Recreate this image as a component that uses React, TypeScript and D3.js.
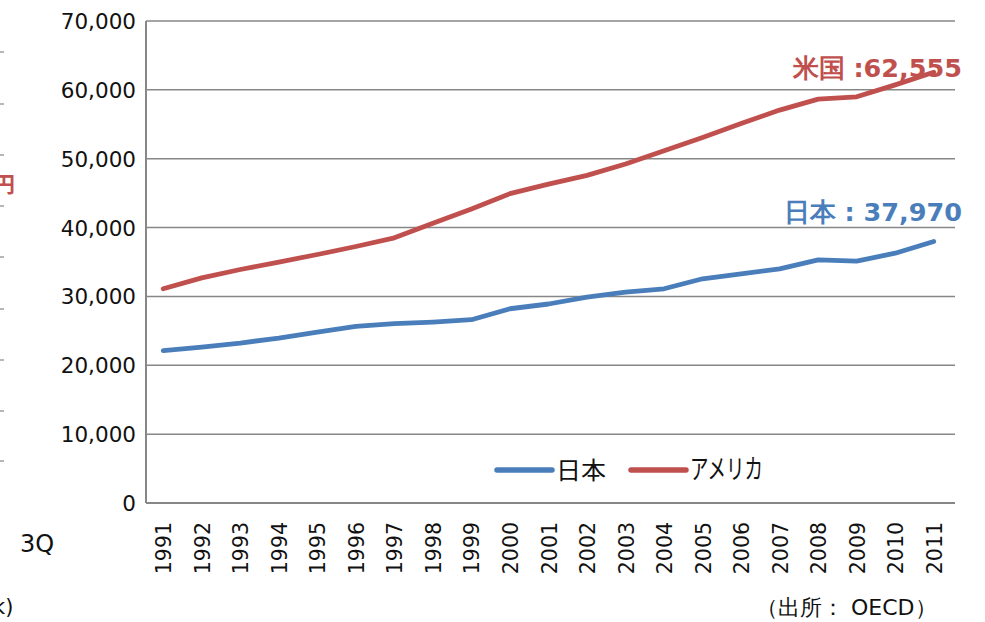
import { useEffect, useRef } from "react";
import { select, scaleBand, scaleLinear, line as d3Line, format } from "d3";

const years = [
  "1991", "1992", "1993", "1994", "1995", "1996", "1997", "1998", "1999", "2000",
  "2001", "2002", "2003", "2004", "2005", "2006", "2007", "2008", "2009", "2010", "2011",
];
const japan = [
  22130, 22650, 23230, 23960, 24830, 25650, 26040, 26280, 26620, 28210,
  28900, 29900, 30620, 31110, 32560, 33290, 34010, 35320, 35120, 36280, 37970,
];
const usa = [
  31110, 32700, 33910, 34970, 36090, 37250, 38510, 40640, 42710, 44930,
  46300, 47580, 49230, 51160, 53090, 55120, 57060, 58650, 58990, 60720, 62555,
];
const yTicks = [0, 10000, 20000, 30000, 40000, 50000, 60000, 70000];
const seriesNames = ["日本", "アメリカ"];

const BLUE = "#4a7ebb";
const RED = "#c0504d";
const GRID = "#878787";
const FONT = "'DejaVu Sans', Verdana, sans-serif";
const CJK = "'Noto Sans CJK JP', sans-serif";

export default function App() {
  const svgRef = useRef<SVGSVGElement | null>(null);
  const width = 985;
  const height = 622;

  useEffect(() => {
    if (!svgRef.current) return;
    const svg = select(svgRef.current);
    svg.selectAll("*").remove();

    const left = 146;
    const right = 955;
    const top = 21;
    const bottom = 503;

    const x = scaleBand<string>().domain(years).range([left, right]);
    const cx = (d: string) => (x(d) ?? 0) + x.bandwidth() / 2 - 2;
    const y = scaleLinear().domain([0, 70000]).range([bottom, top]);

    // stray marks of the neighbouring chart on the left edge
    const edge = svg.append("g");
    [52, 104, 155, 206, 257, 309, 360, 411, 461].forEach((py) => {
      edge.append("line")
        .attr("x1", 0).attr("x2", 4)
        .attr("y1", py).attr("y2", py)
        .attr("stroke", GRID).attr("stroke-width", 1.2);
    });
    edge.append("text")
      .attr("x", -7).attr("y", 192)
      .attr("fill", RED).attr("font-weight", "bold")
      .attr("font-size", 22).attr("font-family", CJK)
      .text("円");
    edge.append("text")
      .attr("x", 20).attr("y", 552)
      .attr("font-size", 24).attr("font-family", FONT)
      .attr("fill", "#111")
      .text("3Q");
    edge.append("text")
      .attr("x", -7).attr("y", 614)
      .attr("font-size", 21).attr("font-family", FONT)
      .attr("fill", "#111")
      .text("k)");

    // grid
    const grid = svg.append("g");
    yTicks.slice(1).forEach((t) => {
      grid.append("line")
        .attr("x1", left).attr("x2", right)
        .attr("y1", y(t)).attr("y2", y(t))
        .attr("stroke", GRID).attr("stroke-width", 1.5);
    });
    grid.append("line")
      .attr("x1", left).attr("x2", right)
      .attr("y1", bottom).attr("y2", bottom)
      .attr("stroke", GRID).attr("stroke-width", 2);
    grid.append("line")
      .attr("x1", left).attr("x2", left)
      .attr("y1", top).attr("y2", bottom)
      .attr("stroke", GRID).attr("stroke-width", 2);

    // y labels
    svg.append("g")
      .selectAll("text")
      .data(yTicks)
      .enter()
      .append("text")
      .attr("x", 136)
      .attr("y", (d) => y(d) + 8)
      .attr("text-anchor", "end")
      .attr("font-size", 21.5)
      .attr("font-family", FONT)
      .attr("fill", "#111")
      .text((d) => format(",")(d));

    // x labels
    svg.append("g")
      .selectAll("text")
      .data(years)
      .enter()
      .append("text")
      .attr("transform", (d) => `translate(${cx(d) + 8},522) rotate(-90)`)
      .attr("text-anchor", "end")
      .attr("font-size", 20.5)
      .attr("font-family", FONT)
      .attr("fill", "#111")
      .text((d) => d);

    const lineGen = d3Line<number>()
      .x((_, i) => cx(years[i]))
      .y((d) => y(d));

    [
      { values: japan, color: BLUE },
      { values: usa, color: RED },
    ].forEach((s) => {
      svg.append("path")
        .attr("d", lineGen(s.values))
        .attr("fill", "none")
        .attr("stroke", s.color)
        .attr("stroke-width", 4.8)
        .attr("stroke-linejoin", "round")
        .attr("stroke-linecap", "round");
    });

    // annotations
    svg.append("text")
      .attr("x", 962).attr("y", 77)
      .attr("text-anchor", "end")
      .attr("font-size", 25.5).attr("font-weight", "bold")
      .attr("font-family", FONT).attr("fill", RED)
      .text(`米国 :${format(",")(usa[usa.length - 1])}`);
    svg.append("text")
      .attr("x", 962).attr("y", 221)
      .attr("text-anchor", "end")
      .attr("font-size", 25.5).attr("font-weight", "bold")
      .attr("font-family", FONT).attr("fill", BLUE)
      .text(`日本 : ${format(",")(japan[japan.length - 1])}`);

    // legend
    const legend = svg.append("g");
    const items = [
      { name: seriesNames[0], color: BLUE, x0: 497, w: 50, size: 24 },
      { name: seriesNames[1], color: RED, x0: 631, w: 73, size: 27 },
    ];
    items.forEach((it) => {
      legend.append("line")
        .attr("x1", it.x0).attr("x2", it.x0 + 55)
        .attr("y1", 470).attr("y2", 470)
        .attr("stroke", it.color).attr("stroke-width", 5.5)
        .attr("stroke-linecap", "round");
      legend.append("text")
        .attr("x", it.x0 + 59).attr("y", 479)
        .attr("font-size", it.size).attr("font-family", CJK)
        .attr("textLength", it.w).attr("lengthAdjust", "spacingAndGlyphs")
        .attr("fill", "#111")
        .text(it.name);
    });

    svg.append("text")
      .attr("x", 756).attr("y", 615)
      .attr("font-size", 22).attr("font-family", FONT)
      .attr("fill", "#111")
      .text("（出所： OECD）");
  }, []);

  return (
    <svg
      ref={svgRef}
      width={width}
      height={height}
      style={{ position: "absolute", left: 0, top: 0 }}
    />
  );
}
